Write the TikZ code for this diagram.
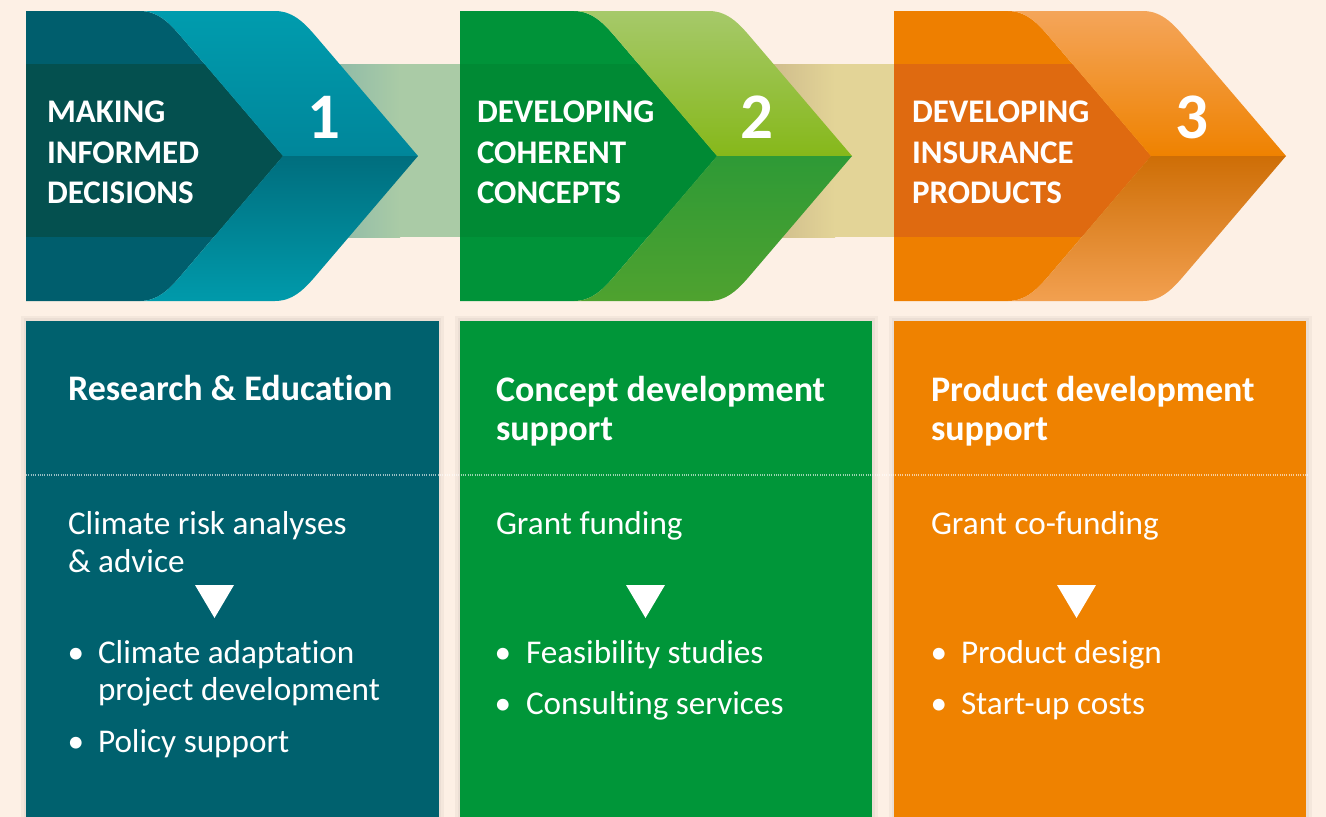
\documentclass[tikz,border=0pt]{standalone}
\usepackage{fontspec}
\setmainfont{Carlito}[Ligatures=NoCommon]
\definecolor{bgc}{HTML}{FDF0E5}
\definecolor{tealbox}{HTML}{00616E}
\definecolor{greenbox}{HTML}{009639}
\definecolor{orangebox}{HTML}{EF8200}
\definecolor{tealdark}{HTML}{005E6D}
\definecolor{tealband}{HTML}{04504F}
\definecolor{greendark}{HTML}{009339}
\definecolor{greenband}{HTML}{008A34}
\definecolor{orangedark}{HTML}{EE7F00}
\definecolor{orangeband}{HTML}{DF6A10}
\definecolor{bandA}{HTML}{AACBA6}
\definecolor{bandAs}{HTML}{8DB9A8}
\definecolor{bandB}{HTML}{E3D497}
\definecolor{bandBs}{HTML}{CDBA8B}
\definecolor{tealTa}{HTML}{009CAE}
\definecolor{tealTb}{HTML}{00869A}
\definecolor{tealBa}{HTML}{006E7E}
\definecolor{tealBb}{HTML}{009AAB}
\definecolor{greenTa}{HTML}{A6C96A}
\definecolor{greenTb}{HTML}{86B81A}
\definecolor{greenBa}{HTML}{2E9A36}
\definecolor{greenBm}{HTML}{7DB520}
\definecolor{greenBb}{HTML}{4FA22F}
\definecolor{orangeTa}{HTML}{F4A55A}
\definecolor{orangeTb}{HTML}{EF8200}
\definecolor{orangeBa}{HTML}{CE6E06}
\definecolor{orangeBb}{HTML}{F2A050}
\newcommand{\darkpath}{(0,11) -- (114,11) .. controls (134,11) and (146,26) .. (158,40) -- (257,156) -- (158,272) .. controls (146,286) and (134,301) .. (114,301) -- (0,301) -- cycle}
\newcommand{\lighttop}{(114,11) -- (249,11) .. controls (269,11) and (281,26) .. (293,40) -- (392,156) -- (257,156) -- (158,40) .. controls (146,26) and (134,11) .. (114,11) -- cycle}
\newcommand{\lightbot}{(114,301) -- (249,301) .. controls (269,301) and (281,286) .. (293,272) -- (392,156) -- (257,156) -- (158,272) .. controls (146,286) and (134,301) .. (114,301) -- cycle}
\newcommand{\chevfont}{\fontsize{33}{41}\selectfont\bfseries}
\newcommand{\numfont}{\fontsize{65}{65}\selectfont\bfseries}
\newcommand{\titlefont}{\fontsize{36}{40}\selectfont\bfseries}
\newcommand{\bodyfont}{\fontsize{33.2}{37}\selectfont}
\begin{document}
\begin{tikzpicture}[x=1pt,y=-1pt,
  lbl/.style={inner sep=0pt, outer sep=0pt, text=white, anchor=base west},
  chevlbl/.style={lbl, font=\chevfont},
  numlbl/.style={inner sep=0pt, text=white, anchor=base, font=\numfont},
  titlelbl/.style={lbl, font=\titlefont},
  bodylbl/.style={lbl, font=\bodyfont},
  bul/.style={inner sep=0pt, text=white, anchor=base, font=\bodyfont},
  tri/.style={fill=white},
  sep/.style={white, opacity=0.6, line width=2.2pt, dash pattern=on 1pt off 1.3pt},
  boxshadow/.style={fill=black, opacity=0.035}]
\useasboundingbox (0,0) rectangle (1326,817);
\fill[bgc] (0,0) rectangle (1326,817);

% connecting bands
\fill[bandA] (300,64) rectangle (460,237);
\shade[left color=bandAs, right color=bandA] (330,64) rectangle (400,237);
\fill[bandB] (735,64) rectangle (894,237);
\shade[left color=bandBs, right color=bandB] (765,64) rectangle (835,237);

% chevron 1
\begin{scope}[shift={(26,0)}]
  \fill[tealdark] \darkpath;
  \begin{scope}
    \clip \darkpath;
    \fill[tealband] (0,64) rectangle (300,237);
  \end{scope}
  \shade[top color=tealTa, bottom color=tealTb] \lighttop;
  \shade[top color=tealBa, bottom color=tealBb] \lightbot;
\end{scope}
% chevron 2
\begin{scope}[shift={(460,0)}]
  \fill[greendark] \darkpath;
  \begin{scope}
    \clip \darkpath;
    \fill[greenband] (0,64) rectangle (300,237);
  \end{scope}
  \shade[top color=greenTa, bottom color=greenTb] \lighttop;
  \shade[top color=greenBa, middle color=greenBm, bottom color=greenBb] \lightbot;
\end{scope}
% chevron 3
\begin{scope}[shift={(894,0)}]
  \fill[orangedark] \darkpath;
  \begin{scope}
    \clip \darkpath;
    \fill[orangeband] (0,64) rectangle (300,237);
  \end{scope}
  \shade[top color=orangeTa, bottom color=orangeTb] \lighttop;
  \shade[top color=orangeBa, bottom color=orangeBb] \lightbot;
\end{scope}

% chevron labels
\node[chevlbl] (c1a) at (47,122) {MAKING};
\node[chevlbl] (c1b) at (47,163) {INFORMED};
\node[chevlbl] (c1c) at (47,203) {DECISIONS};
\node[numlbl] (n1) at (324,138) {1};
\node[chevlbl] (c2a) at (477,122) {DEVELOPING};
\node[chevlbl] (c2b) at (477,163) {COHERENT};
\node[chevlbl] (c2c) at (477,203) {CONCEPTS};
\node[numlbl] (n2) at (757,138) {2};
\node[chevlbl] (c3a) at (912,122) {DEVELOPING};
\node[chevlbl] (c3b) at (912,163) {INSURANCE};
\node[chevlbl] (c3c) at (912,203) {PRODUCTS};
\node[numlbl] (n3) at (1192,138) {3};

% boxes
\foreach \x in {26,460,894} {
  \fill[boxshadow] (\x-5,316) rectangle (\x+418,817);
  \fill[boxshadow] (\x-2,318) rectangle (\x+415,817);
}
\fill[tealbox] (26,321) rectangle (439,817);
\fill[greenbox] (460,321) rectangle (872,817);
\fill[orangebox] (894,321) rectangle (1306,817);
\draw[sep] (26,475) -- (1308,475);

% box 1
\node[titlelbl] (t1) at (68,400) {Research \& Education};
\node[bodylbl] (b1a) at (68,534) {Climate risk analyses};
\node[bodylbl] (b1b) at (68,572) {\& advice};
\fill[tri] (195,585) -- (234,585) -- (214.5,618) -- cycle;
\node[bul] (u1a) at (76,663) {•};
\node[bodylbl] (b1c) at (98,663) {Climate adaptation};
\node[bodylbl] (b1d) at (98,700) {project development};
\node[bul] (u1b) at (76,752) {•};
\node[bodylbl] (b1e) at (98,752) {Policy support};

% box 2
\node[titlelbl] (t2a) at (496,401) {Concept development};
\node[titlelbl] (t2b) at (496,440) {support};
\node[bodylbl] (b2a) at (496,534) {Grant funding};
\fill[tri] (626,585) -- (665,585) -- (645.5,618) -- cycle;
\node[bul] (u2a) at (503,663) {•};
\node[bodylbl] (b2b) at (526,663) {Feasibility studies};
\node[bul] (u2b) at (503,714) {•};
\node[bodylbl] (b2c) at (526,714) {Consulting services};

% box 3
\node[titlelbl] (t3a) at (931,401) {Product development};
\node[titlelbl] (t3b) at (931,440) {support};
\node[bodylbl] (b3a) at (931,534) {Grant co-funding};
\fill[tri] (1057,585) -- (1096,585) -- (1076.5,618) -- cycle;
\node[bul] (u3a) at (939,663) {•};
\node[bodylbl] (b3b) at (961,663) {Product design};
\node[bul] (u3b) at (939,714) {•};
\node[bodylbl] (b3c) at (961,714) {Start-up costs};
\end{tikzpicture}
\end{document}
